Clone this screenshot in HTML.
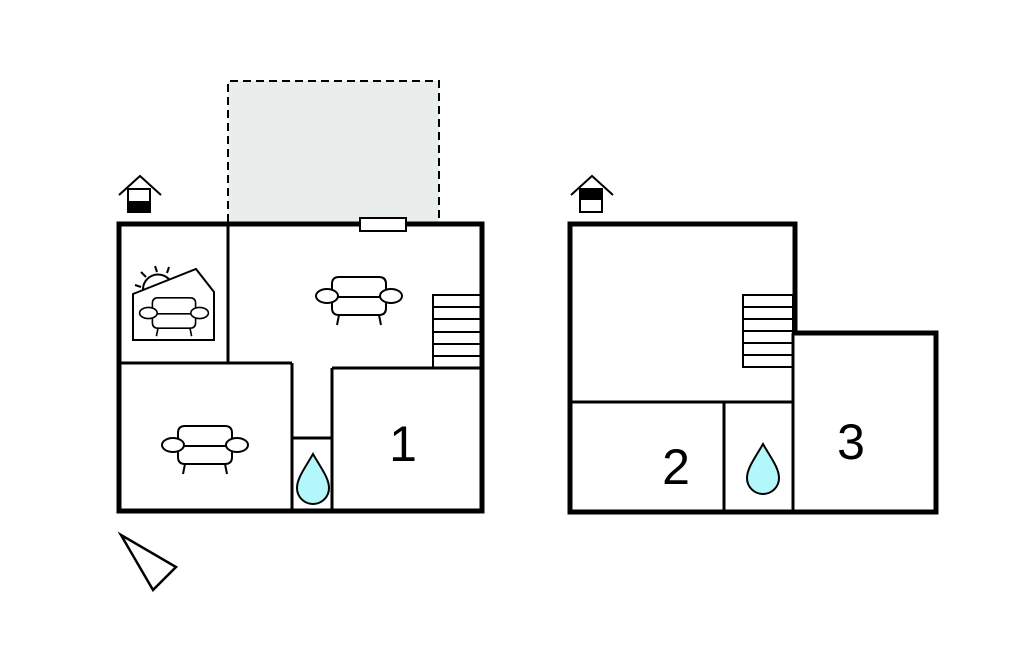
<!DOCTYPE html>
<html><head><meta charset="utf-8"><style>body{margin:0;background:#fff}svg{display:block}</style></head><body>
<svg width="1024" height="652" viewBox="0 0 1024 652" xmlns="http://www.w3.org/2000/svg" font-family="Liberation Sans, sans-serif">
<defs>
<g id="sofa" fill="#fff" stroke="#000" stroke-width="2">
<path d="M-27,-4 V-12 Q-27,-19 -20,-19 H20 Q27,-19 27,-12 V-4"/>
<path d="M-27,4 V12 Q-27,19 -20,19 H20 Q27,19 27,12 V4"/>
<line x1="-22" y1="1" x2="22" y2="1"/>
<ellipse cx="-32" cy="0" rx="11" ry="7"/>
<ellipse cx="32" cy="0" rx="11" ry="7"/>
<line x1="-20" y1="19" x2="-22" y2="29"/>
<line x1="20" y1="19" x2="22" y2="29"/>
</g>
<path id="drop" d="M0,-26 C-8,-12 -16,-2 -16,8 A16,16 0 0 0 16,8 C16,-2 8,-12 0,-26Z" fill="#b3f7fb" stroke="#000" stroke-width="2"/>
</defs>
<rect x="228" y="81" width="211" height="141" fill="#e9eeed"/>
<path d="M228,222 V81 H439 V222" fill="none" stroke="#000" stroke-width="2" stroke-dasharray="8,5"/>
<g fill="none" stroke="#000">
<rect x="119" y="224" width="363" height="287" stroke-width="5" fill="#fff"/>
<g stroke-width="3">
<line x1="228" y1="224" x2="228" y2="363"/>
<line x1="119" y1="363" x2="292" y2="363"/>
<line x1="292" y1="363" x2="292" y2="511"/>
<line x1="292" y1="438" x2="332" y2="438"/>
<line x1="332" y1="368" x2="332" y2="511"/>
<line x1="332" y1="368" x2="482" y2="368"/>
</g>
<g stroke-width="2">
<rect x="433" y="295" width="49" height="73"/>
<line x1="433" y1="307" x2="482" y2="307"/><line x1="433" y1="319" x2="482" y2="319"/><line x1="433" y1="332" x2="482" y2="332"/><line x1="433" y1="344" x2="482" y2="344"/><line x1="433" y1="356" x2="482" y2="356"/>
</g>
<rect x="360" y="218" width="46" height="13" fill="#fff" stroke-width="2"/>
<g stroke-width="2">
<path d="M143,290 A15,15 0 0 1 171,282"/>
<line x1="157" y1="272" x2="155" y2="266"/><line x1="146" y1="277" x2="141" y2="272"/><line x1="141" y1="287" x2="135" y2="285"/><line x1="167" y1="273" x2="169" y2="267"/>
<path d="M133,294 L196,269 L214,292 V340 H133 Z" fill="#fff"/>
</g>
<path d="M570,224 H795 V333 H936 V512 H570 Z" stroke-width="5" fill="#fff"/>
<g stroke-width="3">
<line x1="570" y1="402" x2="793" y2="402"/>
<line x1="724" y1="402" x2="724" y2="512"/>
<line x1="793" y1="333" x2="793" y2="512"/>
</g>
<g stroke-width="2">
<rect x="743" y="295" width="50" height="72"/>
<line x1="743" y1="307" x2="793" y2="307"/><line x1="743" y1="319" x2="793" y2="319"/><line x1="743" y1="331" x2="793" y2="331"/><line x1="743" y1="343" x2="793" y2="343"/><line x1="743" y1="355" x2="793" y2="355"/>
</g>
<polygon points="121,535 176,567 153,590" stroke-width="2.5"/>
<g stroke-width="2">
<path d="M119,195 L140,176 L161,195"/><rect x="128" y="189" width="22" height="23"/>
<path d="M571,195 L592,176 L613,195"/><rect x="580" y="189" width="22" height="23"/>
</g>
</g>
<rect x="128" y="201" width="22" height="11" fill="#000"/>
<rect x="580" y="189" width="22" height="11" fill="#000"/>
<use href="#sofa" x="359" y="296"/>
<use href="#sofa" x="205" y="445"/>
<g transform="translate(174,313) scale(0.8)"><use href="#sofa"/></g>
<use href="#drop" x="313" y="480"/>
<use href="#drop" x="763" y="470"/>
<text x="403" y="461" font-size="50" text-anchor="middle">1</text>
<text x="676" y="484" font-size="50" text-anchor="middle">2</text>
<text x="851" y="459" font-size="50" text-anchor="middle">3</text>
</svg>
</body></html>
